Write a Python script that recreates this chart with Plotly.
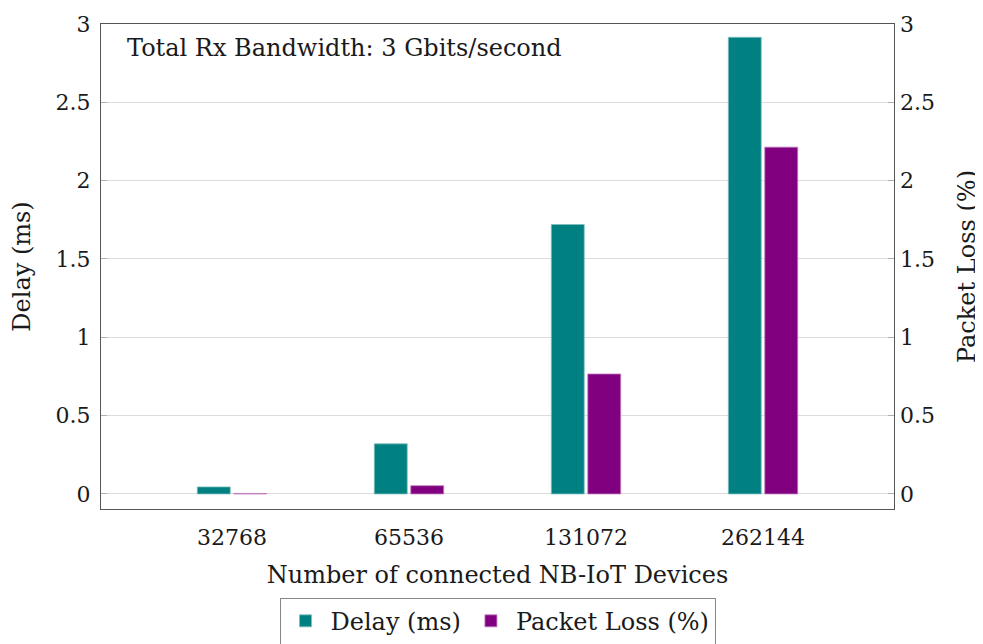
import plotly.graph_objects as go

devices = ["32768", "65536", "131072", "262144"]
delay_ms = [0.045, 0.32, 1.72, 2.915]
packet_loss_pct = [0.003, 0.053, 0.766, 2.214]

FONT = "DejaVu Serif"
TXT = "#1a1a1a"
FT = 22   # tick labels
FL = 24   # labels / text

fig = go.Figure()
fig.add_trace(go.Bar(
    x=devices, y=delay_ms, name="Delay (ms)",
    marker=dict(color="#008080", line=dict(color="#7fbfbf", width=0.8)),
    width=0.186, offset=-0.196, yaxis="y",
))
fig.add_trace(go.Bar(
    x=devices, y=packet_loss_pct, name="Packet Loss (%)",
    marker=dict(color="#800080", line=dict(color="#bf7fbf", width=0.8)),
    width=0.186, offset=0.010, yaxis="y2",
))

yticks = [0, 0.5, 1, 1.5, 2, 2.5, 3]
ytext = ["0", "0.5", "1", "1.5", "2", "2.5", "3"]

fig.update_layout(
    width=975, height=636,
    margin=dict(l=93, r=89, t=16, b=135, autoexpand=False),
    paper_bgcolor="white", plot_bgcolor="white",
    font=dict(family=FONT, size=FL, color=TXT),
    barmode="overlay",
    showlegend=True,
    legend=dict(
        orientation="h", x=0.5, xanchor="center", y=-0.183, yanchor="top",
        bordercolor="#888", borderwidth=1, font=dict(size=FL),
        itemwidth=40,
    ),
    xaxis=dict(
        type="category", range=[-0.74, 3.74], automargin=False,
        showline=True, linecolor="#555", linewidth=1, mirror=True,
        showgrid=False, ticks="", ticklen=0, ticklabelstandoff=9,
        title=dict(text="Number of connected NB-IoT Devices", standoff=16, font=dict(size=FL)),
        tickfont=dict(size=FT),
    ),
    yaxis=dict(
        range=[-0.096, 3.0], tickvals=yticks, ticktext=ytext, automargin=False,
        showline=True, linecolor="#555", linewidth=1, mirror=True,
        showgrid=True, gridcolor="#dcdcdc", gridwidth=1,
        ticks="inside", ticklen=6, tickcolor="#b0b0b0", ticklabelstandoff=5,
        zeroline=False,
        title=dict(text="Delay (ms)", standoff=20, font=dict(size=FL)),
        tickfont=dict(size=FT),
    ),
    yaxis2=dict(
        range=[-0.096, 3.0], tickvals=yticks, ticktext=ytext, automargin=False,
        overlaying="y", side="right",
        showline=False, showgrid=False, zeroline=False,
        ticks="inside", ticklen=6, tickcolor="#b0b0b0", ticklabelstandoff=5,
        title=dict(text="Packet Loss (%)", standoff=24, font=dict(size=FL)),
        tickfont=dict(size=FT),
    ),
    annotations=[dict(
        text="Total Rx Bandwidth: 3 Gbits/second",
        xref="paper", yref="paper", x=0.030, y=0.95,
        xanchor="left", yanchor="middle", showarrow=False,
        font=dict(size=FL, family=FONT, color=TXT),
    )],
)

fig.write_html("out.html")
